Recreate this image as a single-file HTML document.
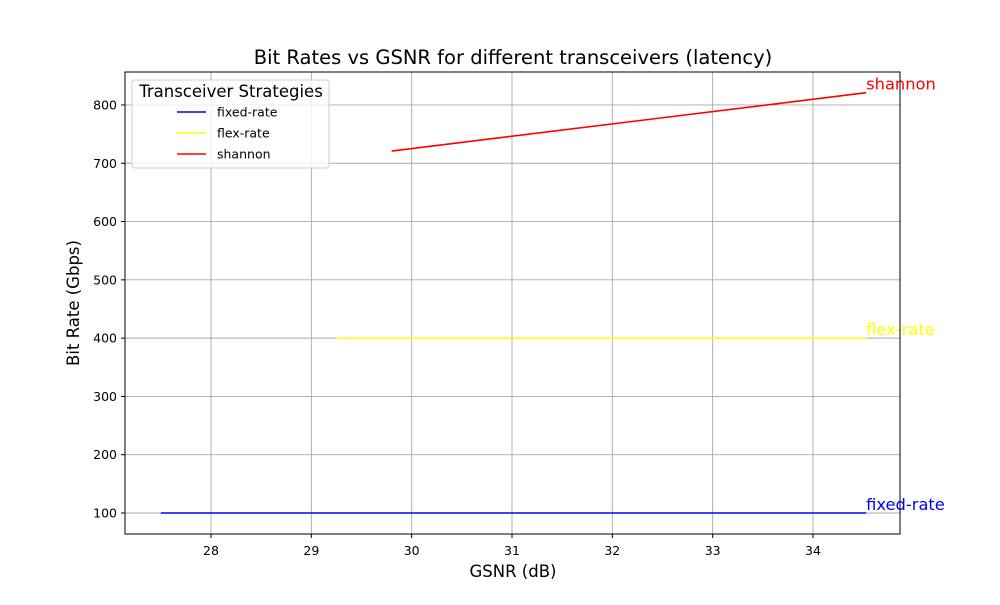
<!DOCTYPE html>
<html><head><meta charset="utf-8"><style>
body{margin:0;background:#fff;}
svg text{font-family:"DejaVu Sans","Liberation Sans",sans-serif;}
</style></head><body>
<svg id="chart" width="1000" height="600" xmlns="http://www.w3.org/2000/svg">
<rect width="1000" height="600" fill="#fff"/>
<g id="grid"></g>
<g id="series"></g>
<rect x="125" y="72" width="775" height="462" fill="none" stroke="#000" stroke-width="1"/>
<g id="axes"></g>
<text x="513" y="64" text-anchor="middle" font-size="19.5">Bit Rates vs GSNR for different transceivers (latency)</text>
<text x="513" y="577" text-anchor="middle" font-size="16.5">GSNR (dB)</text>
<text transform="translate(79,303) rotate(-90)" text-anchor="middle" font-size="16.5">Bit Rate (Gbps)</text>
<g id="legend">
<rect x="132" y="80" width="197" height="88" rx="3" fill="#fff" fill-opacity="0.8" stroke="#ccc"/>
<text x="231" y="97" text-anchor="middle" font-size="16.5">Transceiver Strategies</text>
</g>
</svg>
<script>
const xTicks=[28,29,30,31,32,33,34];
const yTicks=[100,200,300,400,500,600,700,800];
const seriesNames=["fixed-rate","flex-rate","shannon"];
const seriesColors=["#0000ff","#ffff00","#ff0000"];
const fixedX=[27.5,34.53];
const fixedY=[100,100];
const flexX=[29.25,34.53];
const flexY=[400,400];
const shannonX=[29.8,34.53];
const shannonY=[721,821];
const xs=[fixedX,flexX,shannonX], ys=[fixedY,flexY,shannonY];
const NS="http://www.w3.org/2000/svg";
function X(v){return 211+(v-28)*100.33;}
function Y(v){return 513-(v-100)*0.5829;}
function mk(t,a,p){const e=document.createElementNS(NS,t);for(const k in a)e.setAttribute(k,a[k]);p.appendChild(e);return e;}
const grid=document.getElementById('grid'),axes=document.getElementById('axes'),ser=document.getElementById('series'),leg=document.getElementById('legend');
xTicks.forEach(t=>{const x=X(t);
 const g=mk('line',{x1:x,x2:x,y1:72,y2:534,stroke:'#aaaaaa','stroke-width':0.9},grid);
 
 
 const k=mk('line',{x1:x,x2:x,y1:534,y2:538,stroke:'#000'},axes);
 
 
 const l=mk('text',{x:x,y:555,'text-anchor':'middle','font-size':12.5},axes);l.textContent=t;
 
 
});
yTicks.forEach(t=>{const y=Y(t);
 const g=mk('line',{x1:125,x2:900,y1:y,y2:y,stroke:'#aaaaaa','stroke-width':0.9},grid);
 
 
 const k=mk('line',{x1:121,x2:125,y1:y,y2:y,stroke:'#000'},axes);
 
 
 const l=mk('text',{x:117,y:y+4.5,'text-anchor':'end','font-size':12.5},axes);l.textContent=t;
 
 
});
seriesNames.forEach((n,i)=>{
 const pts=xs[i].map((v,j)=>X(v)+','+Y(ys[i][j])).join(' ');
 const p=mk('polyline',{points:pts,fill:'none',stroke:seriesColors[i],'stroke-width':1.6},ser);
 
 
 const last=xs[i].length-1;
 const t=mk('text',{x:X(xs[i][last])+0,y:Y(ys[i][last])-3,'font-size':16.3,fill:seriesColors[i]},ser);t.textContent=n;
 
 
 const ly=112+i*21;
 const ll=mk('line',{x1:177,x2:206,y1:ly,y2:ly,stroke:seriesColors[i],'stroke-width':1.6},leg);
 
 
 const lt=mk('text',{x:217,y:ly+4.5,'font-size':12.5},leg);lt.textContent=n;
 
 
});
</script>
</body></html>
